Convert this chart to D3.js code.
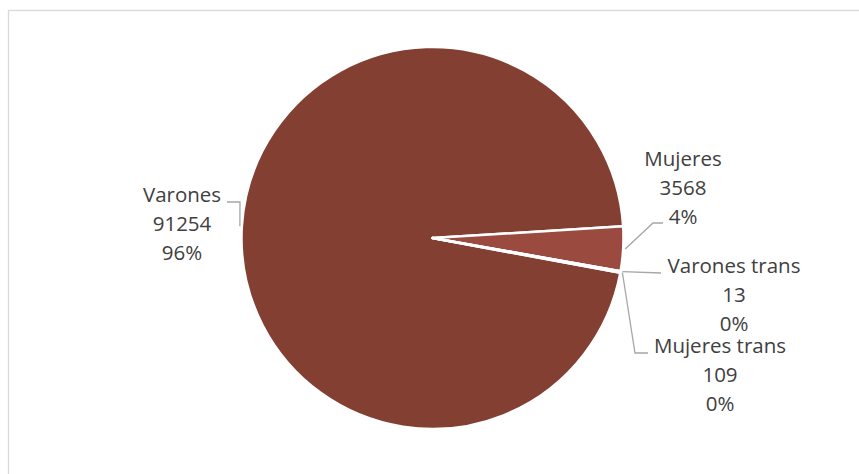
<!DOCTYPE html>
<html>
<head>
<meta charset="utf-8">
<script src="https://cdn.jsdelivr.net/npm/d3@7"></script>
<style>
  html, body { margin: 0; padding: 0; background: #fff; }
  svg { display: block; }
</style>
</head>
<body>
<div id="chart"></div>
<script>
// Pie: población por género
const categories = ["Varones", "Mujeres", "Varones trans", "Mujeres trans"];
const values = [91254, 3568, 13, 109];
const percentLabels = ["96%", "4%", "0%", "0%"];
const colors = ["#843f33", "#9b4a40", "#8f4438", "#8a4236"];

(function () {
  const width = 859;
  const height = 474;
  const cx = 432.5, cy = 238, radius = 191;

  // label anchors (text centre x, first baseline y) and leader elbows
  const labelLayout = [
    { x: 182, y: 202, elbow: [[240, 202], [227, 202]] },
    { x: 683, y: 166, elbow: [[653, 223], [663, 223]] },
    { x: 734, y: 273, elbow: [[661, 273]] },
    { x: 720, y: 353, elbow: [[635, 353], [648, 353]] },
  ];
  const lineHeight = 29;

  const svg = d3.select("#chart")
    .append("svg")
    .attr("width", width)
    .attr("height", height);

  // chart area border (clipped by the window on right/bottom)
  svg.append("rect")
    .attr("x", 8.5)
    .attr("y", 10.5)
    .attr("width", 1000)
    .attr("height", 1000)
    .attr("fill", "none")
    .attr("stroke", "#d9d9d9")
    .attr("stroke-width", 1.3);

  const data = categories.map((c, i) => ({ name: c, value: values[i], pct: percentLabels[i] }));

  const startDeg = 100.5;
  const pie = d3.pie()
    .sort(null)
    .value((d) => d.value)
    .startAngle(startDeg * Math.PI / 180)
    .endAngle((startDeg + 360) * Math.PI / 180);

  const arcs = pie(data);
  const arc = d3.arc().innerRadius(0).outerRadius(radius);

  const g = svg.append("g").attr("transform", `translate(${cx},${cy})`);

  g.selectAll("path")
    .data(arcs)
    .join("path")
    .attr("d", arc)
    .attr("fill", (d, i) => colors[i])
    .attr("stroke", "#fff")
    .attr("stroke-width", 2.5)
    .attr("stroke-linejoin", "round");

  // leader lines
  const leaderR = radius + 2;
  svg.append("g")
    .selectAll("path")
    .data(arcs)
    .join("path")
    .attr("d", (d, i) => {
      const a = (d.startAngle + d.endAngle) / 2;
      const sx = cx + leaderR * Math.sin(a);
      const sy = cy - leaderR * Math.cos(a);
      return d3.line()([[sx, sy]].concat(labelLayout[i].elbow));
    })
    .attr("fill", "none")
    .attr("stroke", "#a6a6a6")
    .attr("stroke-width", 1.3);

  // labels
  const labels = svg.append("g")
    .attr("font-family", "'Open Sans', sans-serif")
    .attr("font-size", 20.5)
    .attr("fill", "#404040")
    .attr("text-anchor", "middle");

  labels.selectAll("text")
    .data(arcs)
    .join("text")
    .attr("x", (d, i) => labelLayout[i].x)
    .attr("y", (d, i) => labelLayout[i].y)
    .each(function (d, i) {
      const t = d3.select(this);
      [d.data.name, String(d.data.value), d.data.pct].forEach((s, k) => {
        t.append("tspan")
          .attr("x", labelLayout[i].x)
          .attr("y", labelLayout[i].y + k * lineHeight)
          .text(s);
      });
    });
})();
</script>
</body>
</html>
